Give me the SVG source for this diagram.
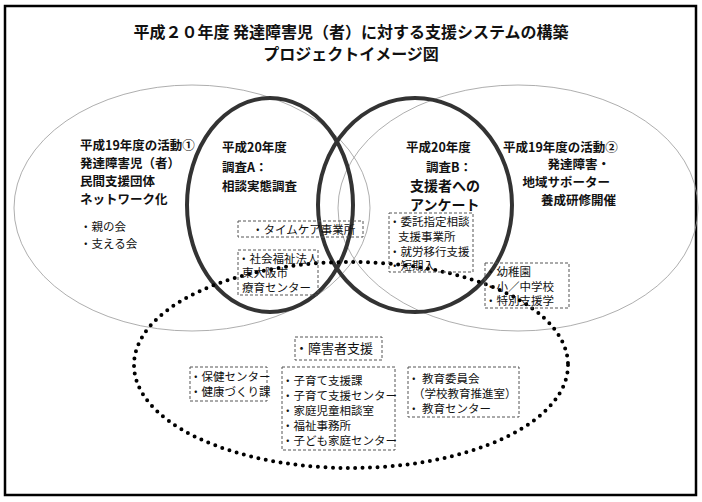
<svg xmlns="http://www.w3.org/2000/svg" width="702" height="502" viewBox="0 0 702 502">
<style>
text{font-family:"Noto Sans CJK JP","Liberation Sans",sans-serif;fill:#111}
.t{font-size:16px;font-weight:bold}
.h{font-size:12.5px;font-weight:bold}
.s{font-size:11.5px}
.box{fill:none;stroke:#555;stroke-width:1;stroke-dasharray:3,2}
.thin{fill:none;stroke:#999;stroke-width:0.8}
.bold{fill:none;stroke:#333;stroke-width:4}
</style>
<rect x="0" y="0" width="702" height="502" fill="#fff"/>
<rect x="5" y="6" width="691" height="489" fill="none" stroke="#000" stroke-width="2.5"/>
<g id="title">
<text class="t" x="351" y="38" text-anchor="middle">平成２０年度  発達障害児（者）に対する支援システムの構築</text>
<text class="t" x="351" y="60" text-anchor="middle">プロジェクトイメージ図</text>
</g>
<g id="connectors">
<ellipse class="thin" cx="192" cy="208" rx="178" ry="123"/>
<ellipse class="thin" cx="518" cy="208" rx="180" ry="123"/>
<ellipse class="bold" cx="270" cy="205" rx="83" ry="107"/>
<ellipse class="bold" cx="415" cy="205" rx="97" ry="107"/>
<ellipse cx="351" cy="365" rx="217" ry="103" fill="none" stroke="#000" stroke-width="4" stroke-linecap="round" stroke-dasharray="0,7.5"/>
</g>
<g id="act1">
<text class="h" x="80" y="150">平成19年度の活動①</text>
<text class="h" x="80" y="168">発達障害児（者）</text>
<text class="h" x="80" y="186">民間支援団体</text>
<text class="h" x="80" y="204">ネットワーク化</text>
<text class="s" x="80" y="231">・親の会</text>
<text class="s" x="80" y="248">・支える会</text>
</g>
<g id="surveyA">
<text class="h" x="222" y="152">平成20年度</text>
<text class="h" x="222" y="172">調査A：</text>
<text class="h" x="222" y="191">相談実態調査</text>
</g>
<g id="surveyB">
<text class="h" x="406" y="152">平成20年度</text>
<text class="h" x="472" y="172" text-anchor="end">調査B：</text>
<text class="h" x="410" y="191" style="font-size:14px">支援者への</text>
<text class="h" x="410" y="210" style="font-size:14px">アンケート</text>
</g>
<g id="act2">
<text class="h" x="503" y="152">平成19年度の活動②</text>
<text class="h" x="610" y="169" text-anchor="end">発達障害・</text>
<text class="h" x="610" y="187" text-anchor="end">地域サポーター</text>
<text class="h" x="616" y="205" text-anchor="end">養成研修開催</text>
</g>
<g id="timecare">
<rect class="box" x="238" y="221" width="125" height="16"/>
<text class="s" x="252" y="234">・タイムケア事業所</text>
</g>
<g id="ryoiku">
<rect class="box" x="238" y="250" width="80" height="45"/>
<text class="s" x="238" y="263">・社会福祉法人</text>
<text class="s" x="242" y="277">東大阪市</text>
<text class="s" x="242" y="292">療育センター</text>
</g>
<g id="itaku">
<rect class="box" x="389" y="213" width="84" height="59"/>
<text class="s" x="389" y="226">・委託指定相談</text>
<text class="s" x="398" y="241">支援事業所</text>
<text class="s" x="389" y="256">・就労移行支援</text>
<text class="s" x="389" y="270">・短期入</text>
</g>
<g id="school">
<rect class="box" x="485" y="263" width="84" height="45"/>
<text class="s" x="485" y="276">・幼稚園</text>
<text class="s" x="485" y="291">・小／中学校</text>
<text class="s" x="485" y="305">・特別支援学</text>
</g>
<g id="shogai">
<rect class="box" x="295" y="337" width="87" height="23"/>
<text class="s" x="295" y="353" style="font-size:13px">・障害者支援</text>
</g>
<g id="hoken">
<rect class="box" x="190" y="367" width="77" height="34"/>
<text class="s" x="190" y="381">・保健センター</text>
<text class="s" x="190" y="396">・健康づくり課</text>
</g>
<g id="kosodate">
<rect class="box" x="282" y="367" width="113" height="83"/>
<text class="s" x="282" y="385">・子育て支援課</text>
<text class="s" x="282" y="400">・子育て支援センター</text>
<text class="s" x="282" y="415">・家庭児童相談室</text>
<text class="s" x="282" y="430">・福祉事務所</text>
<text class="s" x="282" y="445">・子ども家庭センター</text>
</g>
<g id="kyoiku">
<rect class="box" x="408" y="367" width="111" height="50"/>
<text class="s" x="408" y="383">・ 教育委員会</text>
<text class="s" x="413" y="398">（学校教育推進室）</text>
<text class="s" x="408" y="413">・ 教育センター</text>
</g>
</svg>
